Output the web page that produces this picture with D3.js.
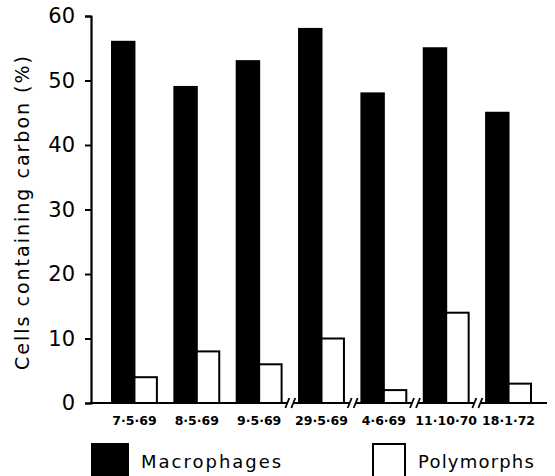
<!DOCTYPE html>
<html>
<head>
    <script src="https://cdnjs.cloudflare.com/ajax/libs/d3/7.8.5/d3.min.js"></script>
    <style>
        body { margin: 0; background: #fff; }
        svg { font-family: "DejaVu Sans", sans-serif; }
    </style>
</head>
<body>
    <div id="chart"></div>
    <script>
        const dates = ["7·5·69", "8·5·69", "9·5·69", "29·5·69", "4·6·69", "11·10·70", "18·1·72"];
        const macrophages = [56, 49, 53, 58, 48, 55, 45];
        const polymorphs = [4, 8, 6, 10, 2, 14, 3];
        const yTicks = [0, 10, 20, 30, 40, 50, 60];
        const seriesNames = ["Macrophages", "Polymorphs"];
        // axis breaks sit between these group indexes
        const breaksAfter = [2, 3, 4, 5];

        const W = 555, H = 476;
        const axisX = 91, axisEnd = 547;

        const svg = d3.select("#chart").append("svg")
            .attr("width", W)
            .attr("height", H);

        const y = d3.scaleLinear().domain([0, 60]).range([403, 16]);

        const x0 = d3.scaleBand()
            .domain(dates)
            .range([112, 531])
            .paddingInner(0.28)
            .paddingOuter(0);

        const x1 = d3.scaleBand()
            .domain(seriesNames)
            .range([0, x0.bandwidth()]);

        const fill = d3.scaleOrdinal().domain(seriesNames).range(["#000", "#fff"]);

        // y axis
        const yAxis = svg.append("g")
            .attr("transform", `translate(${axisX},0)`)
            .call(d3.axisLeft(y).tickValues(yTicks).tickSize(6).tickPadding(10));
        yAxis.select(".domain").attr("stroke-width", 2.2);
        yAxis.selectAll(".tick line").attr("stroke-width", 2);
        yAxis.selectAll("text")
            .style("font-size", "21px")
            .style("font-family", "'DejaVu Sans', sans-serif")
            .attr("fill", "#000");

        svg.append("text")
            .attr("transform", "rotate(-90)")
            .attr("x", -212)
            .attr("y", 29)
            .attr("text-anchor", "middle")
            .style("font-size", "19px")
            .style("letter-spacing", "2px")
            .text("Cells containing carbon (%)");

        // bars
        const rows = dates.map((d, i) => ({ date: d, Macrophages: macrophages[i], Polymorphs: polymorphs[i] }));

        const groups = svg.selectAll(".grp")
            .data(rows)
            .join("g")
            .attr("class", "grp")
            .attr("transform", d => `translate(${x0(d.date)},0)`);

        groups.selectAll("rect")
            .data(d => seriesNames.map(k => ({ key: k, value: d[k] })))
            .join("rect")
            .attr("x", d => x1(d.key))
            .attr("y", d => y(d.value))
            .attr("width", x1.bandwidth())
            .attr("height", d => y(0) - y(d.value))
            .attr("fill", d => fill(d.key))
            .attr("stroke", "#000")
            .attr("stroke-width", 2);

        // x axis line with breaks
        const breakX = breaksAfter.map(i => (x0(dates[i]) + x0.bandwidth() + x0(dates[i + 1])) / 2);
        const segs = [];
        let start = axisX - 1;
        breakX.forEach(bx => { segs.push([start, bx - 3]); start = bx + 3; });
        segs.push([start, axisEnd]);
        svg.selectAll(".xseg")
            .data(segs)
            .join("line")
            .attr("class", "xseg")
            .attr("x1", d => d[0]).attr("x2", d => d[1])
            .attr("y1", y(0)).attr("y2", y(0))
            .attr("stroke", "#000")
            .attr("stroke-width", 2.2);

        breakX.forEach(bx => {
            [-3, 3].forEach(dx => {
                svg.append("line")
                    .attr("x1", bx + dx - 2).attr("y1", y(0) + 5)
                    .attr("x2", bx + dx + 2).attr("y2", y(0) - 5)
                    .attr("stroke", "#000")
                    .attr("stroke-width", 1.8);
            });
        });

        // date labels
        svg.selectAll(".dlab")
            .data(dates)
            .join("text")
            .attr("class", "dlab")
            .attr("x", d => x0(d) + x0.bandwidth() / 2)
            .attr("y", 425)
            .attr("text-anchor", "middle")
            .style("font-size", "12.5px")
            .style("font-weight", "bold")
            .text(d => d);

        // legend
        const legend = svg.append("g");
        const legendPos = [92, 372];
        const legendSpacing = ["2px", "1.2px"];
        seriesNames.forEach((name, i) => {
            legend.append("rect")
                .attr("x", legendPos[i] + (i ? 1 : 0))
                .attr("y", 444)
                .attr("width", i ? 32 : 36)
                .attr("height", 40)
                .attr("fill", fill(name))
                .attr("stroke", "#000")
                .attr("stroke-width", 2);
            legend.append("text")
                .attr("x", legendPos[i] + (i ? 46 : 49))
                .attr("y", 468)
                .style("font-size", "18px")
                .style("letter-spacing", legendSpacing[i])
                .text(name);
        });
    </script>
</body>
</html>
